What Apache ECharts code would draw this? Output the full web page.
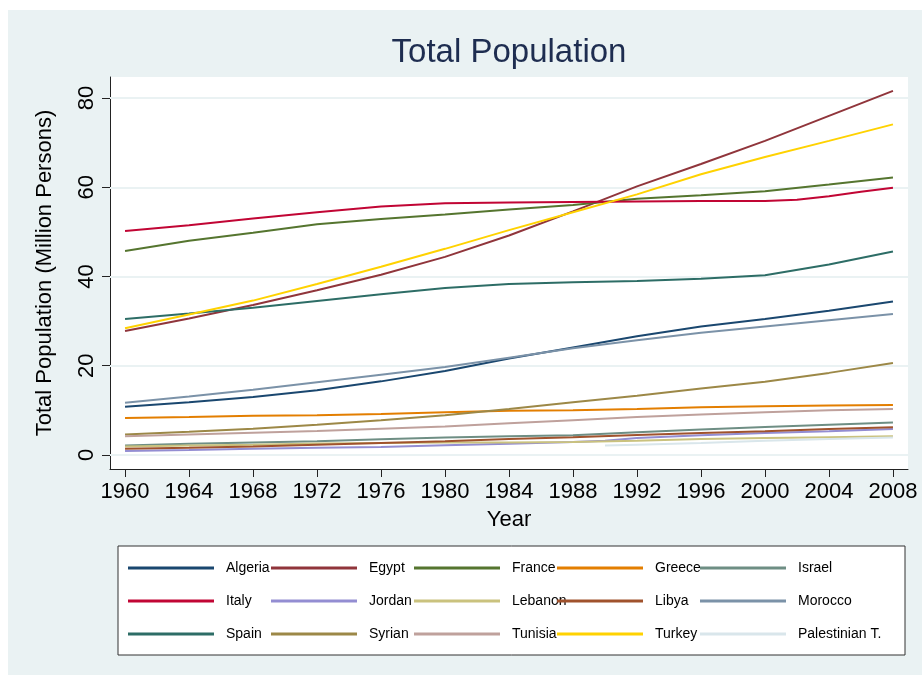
<!DOCTYPE html>
<html><head><meta charset="utf-8">
<script src="https://cdn.jsdelivr.net/npm/echarts@6/dist/echarts.min.js"></script>
<style>html,body{margin:0;padding:0;background:#fff}#c{width:922px;height:675px}</style>
</head><body><div id="c"></div>
<script>
// ---- data (million persons) ----
const years = [1960,1964,1968,1972,1976,1980,1984,1988,1992,1996,2000,2004,2008];
const algeria = [10.8,11.8,13.0,14.5,16.5,18.8,21.6,24.1,26.6,28.8,30.5,32.3,34.4];
const egypt   = [27.8,30.6,33.6,36.9,40.4,44.4,49.2,54.6,60.2,65.2,70.4,76.0,81.6];
const france  = [45.7,48.0,49.8,51.7,52.9,53.9,55.0,56.0,57.4,58.2,59.1,60.6,62.2];
const greece  = [8.3,8.5,8.8,8.9,9.2,9.6,9.9,10.0,10.3,10.7,10.9,11.1,11.2];
const israel  = [2.1,2.5,2.8,3.1,3.5,3.9,4.2,4.4,5.1,5.7,6.3,6.8,7.3];
const italyYears = [1960,1964,1968,1972,1976,1980,1984,1988,1992,1996,2000,2002,2004,2006,2008];
const italy   = [50.2,51.5,53.0,54.4,55.7,56.4,56.6,56.7,56.8,56.9,56.9,57.2,58.0,59.0,59.9];
const jordanYears = [1960,1964,1968,1972,1976,1980,1984,1988,1990,1992,1996,2000,2004,2008];
const jordan  = [0.9,1.1,1.4,1.6,1.8,2.2,2.5,2.9,3.2,3.8,4.4,4.9,5.3,5.8];
const lebanon = [1.9,2.1,2.3,2.6,2.7,2.8,2.8,2.9,3.2,3.6,3.8,4.0,4.2];
const libya   = [1.4,1.6,1.9,2.3,2.7,3.1,3.6,4.0,4.5,4.9,5.3,5.8,6.2];
const morocco = [11.7,13.1,14.6,16.3,18.0,19.7,21.8,23.9,25.7,27.4,28.8,30.2,31.6];
const spain   = [30.5,31.7,33.0,34.5,36.0,37.4,38.3,38.7,39.0,39.5,40.3,42.7,45.6];
const syrian  = [4.6,5.2,5.9,6.8,7.8,8.9,10.3,11.8,13.3,14.9,16.4,18.4,20.6];
const tunisia = [4.2,4.6,5.0,5.4,5.9,6.4,7.1,7.8,8.5,9.1,9.6,10.0,10.3];
const turkey  = [28.4,31.5,34.6,38.3,42.2,46.2,50.4,54.4,58.4,62.9,66.8,70.4,74.1];
const palestYears = [1990,1992,1996,2000,2004,2008];
const palest  = [2.1,2.3,2.7,3.2,3.6,3.9];

const xTicks = [1960,1964,1968,1972,1976,1980,1984,1988,1992,1996,2000,2004,2008];
const yTicks = [0,20,40,60,80];

const seriesNames = ['Algeria','Egypt','France','Greece','Israel','Italy','Jordan','Lebanon','Libya','Morocco','Spain','Syrian','Tunisia','Turkey','Palestinian T.'];
const seriesYears = [years,years,years,years,years,italyYears,jordanYears,years,years,years,years,years,years,years,palestYears];
const seriesVals  = [algeria,egypt,france,greece,israel,italy,jordan,lebanon,libya,morocco,spain,syrian,tunisia,turkey,palest];
const colors = ['#1A476F','#90353B','#55752F','#E37E00','#6E8E84','#C10534','#938DD2','#CAC27E','#A0522D','#7B92A8','#2D6D66','#9C8847','#BFA19C','#FFD200','#D9E6EB'];

// ---- chart ----
const FONT = 'Liberation Sans, Arial, Helvetica, sans-serif';
const chart = echarts.init(document.getElementById('c'));

const series = seriesNames.map((n, i) => ({
  name: n, type: 'line', z: 3,
  data: seriesVals[i].map((v, k) => [seriesYears[i][k], v]),
  showSymbol: false, symbol: 'none', smooth: false,
  lineStyle: { width: 2, color: colors[i] },
  itemStyle: { color: colors[i] },
  emphasis: { disabled: true }, silent: true
}));
series[0].markLine = {
  silent: true, symbol: 'none', z: 1, animation: false,
  label: { show: false },
  lineStyle: { color: '#EAF2F3', width: 2, type: 'solid' },
  data: yTicks.map(v => ({ yAxis: v }))
};

const legends = [0,1,2,3,4].map(c => ({
  orient: 'vertical', left: 128 + c * 143, top: 560, padding: 0,
  itemWidth: 86, itemHeight: 3, itemGap: 17, icon: 'rect',
  selectedMode: false,
  textStyle: { fontFamily: FONT, fontSize: 14, color: '#000', lineHeight: 16, padding: [0,0,0,7] },
  data: [seriesNames[c], seriesNames[c+5], seriesNames[c+10]]
}));

chart.setOption({
  animation: false,
  backgroundColor: '#ffffff',
  color: colors,
  graphic: [
    { type: 'rect', z: -10, shape: { x: 8, y: 10, width: 914, height: 665 }, style: { fill: '#EAF2F3' } },
    { type: 'rect', z: 0, shape: { x: 118, y: 546, width: 787, height: 109 }, style: { fill: '#ffffff', stroke: '#333', lineWidth: 1 } }
  ],
  title: {
    text: 'Total Population', left: 509, top: 36, padding: 0, textAlign: 'center',
    textStyle: { fontFamily: FONT, fontSize: 33, fontWeight: 'normal', color: '#1E2D50' }
  },
  legend: legends,
  grid: { left: 110, top: 77, right: 14, bottom: 206, show: true, backgroundColor: '#ffffff', borderWidth: 0, containLabel: false },
  xAxis: {
    type: 'value', min: 1959.06, max: 2008.94,
    name: 'Year', nameLocation: 'middle', nameGap: 40,
    nameTextStyle: { fontFamily: FONT, fontSize: 22, color: '#000' },
    axisLine: { show: true, onZero: false, lineStyle: { color: '#222', width: 1 } },
    axisTick: { show: true, length: 8, customValues: xTicks, lineStyle: { color: '#222' } },
    axisLabel: { customValues: xTicks, margin: 12, fontFamily: FONT, fontSize: 22, color: '#000', formatter: v => String(v) },
    splitLine: { show: false }
  },
  yAxis: {
    type: 'value', min: -3.14, max: 84.71,
    name: 'Total Population (Million Persons)', nameLocation: 'middle', nameGap: 54,
    nameTextStyle: { fontFamily: FONT, fontSize: 22, color: '#000' },
    axisLine: { show: true, onZero: false, lineStyle: { color: '#222', width: 1 } },
    axisTick: { show: true, length: 8, customValues: yTicks, lineStyle: { color: '#222' } },
    axisLabel: { customValues: yTicks, rotate: 90, margin: 12, fontFamily: FONT, fontSize: 22, color: '#000', formatter: v => String(v) },
    splitLine: { show: false }
  },
  series: series
});
</script>
</body></html>
